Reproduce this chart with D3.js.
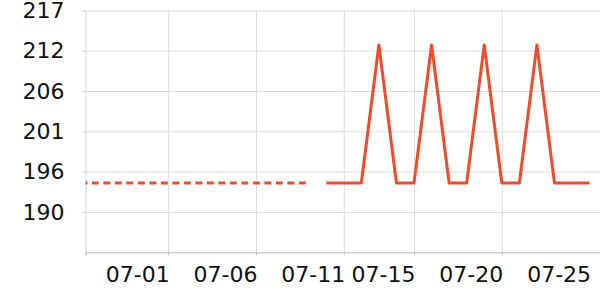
<!DOCTYPE html>
<html>
  <head>
	<meta charset="utf-8">
	<title>Line chart</title>
	<script src="https://cdnjs.cloudflare.com/ajax/libs/d3/7.8.5/d3.min.js"></script>
	<style>
	  body { margin: 0; background: #fff; }
	  .grid line { stroke: #dddddd; stroke-width: 1px; }
	  .grid path { display: none; }
	  .axis text { font-family: "DejaVu Sans", sans-serif; font-size: 22px; fill: #111; }
	  .line { fill: none; stroke: #ef4c2c; stroke-width: 3px; stroke-linejoin: round; }
	  .dashed { stroke-dasharray: 7 4.5; }
	</style>
  </head>
  <body>
    <div id="chart"></div>
    <script>
		// dates of the dashed (earlier) part and the solid part
		var dashedDates = ["06-26", "06-27", "06-28", "06-29", "06-30", "07-01", "07-02",
			"07-03", "07-04", "07-05", "07-06", "07-07", "07-08", "07-09"];
		var dashedValues = [194.2, 194.2, 194.2, 194.2, 194.2, 194.2, 194.2,
			194.2, 194.2, 194.2, 194.2, 194.2, 194.2, 194.2];

		var solidDates = ["07-10", "07-11", "07-12", "07-13", "07-14", "07-15", "07-16", "07-17",
			"07-18", "07-19", "07-20", "07-21", "07-22", "07-23", "07-24", "07-25"];
		var solidValues = [194.2, 194.2, 194.2, 212.5, 194.2, 194.2, 212.5, 194.2,
			194.2, 212.5, 194.2, 194.2, 212.5, 194.2, 194.2, 194.2];

		var xTickDates = ["07-01", "07-06", "07-11", "07-15", "07-20", "07-25"];
		var yTickValues = [190.35, 195.7, 201.05, 206.4, 211.75, 217.1];

		var margin = { left: 85.5, top: 10.3, right: 0, bottom: 47.7 };
		var width = 600 - margin.left - margin.right;
		var height = 300 - margin.top - margin.bottom;

		var parseDay = d3.timeParse("%Y-%m-%d");
		function toDate(s) { return parseDay("2024-" + s); }

		var x = d3.scaleTime()
			.domain([new Date(2024, 5, 26, 7, 0), new Date(2024, 6, 25, 14, 14)])
			.range([0, width]);
		var y = d3.scaleLinear().domain([185, 217.1]).range([height, 0]);

		var svg = d3.select("#chart").append("svg")
			.attr("width", 600)
			.attr("height", 300)
			.append("g")
			.attr("transform", "translate(" + margin.left + "," + margin.top + ")");

		svg.append("defs").append("clipPath").attr("id", "clip")
			.append("rect").attr("width", width).attr("height", height);

		// horizontal grid
		svg.append("g").attr("class", "grid")
			.call(d3.axisLeft(y).tickValues(yTickValues).tickSize(-width).tickFormat(""));

		// vertical grid (the last label has no grid line)
		svg.append("g").attr("class", "grid")
			.attr("transform", "translate(0," + height + ")")
			.call(d3.axisBottom(x).tickValues(xTickDates.slice(0, -1).map(toDate))
				.tickSize(-height).tickFormat(""));

		// y axis
		var yAxis = svg.append("g").attr("class", "axis")
			.call(d3.axisLeft(y).tickValues(yTickValues).tickSize(3).tickPadding(18)
				.tickFormat(d3.format(".0f")));
		yAxis.select(".domain").attr("stroke", "#d6d6d6").attr("d", "M0.5,0V" + (height + 4));
		yAxis.selectAll(".tick line").attr("stroke", "#cccccc");

		// x axis
		var xAxis = svg.append("g").attr("class", "axis")
			.attr("transform", "translate(0," + height + ")")
			.call(d3.axisBottom(x).tickValues(xTickDates.map(toDate)).tickSize(3).tickPadding(11)
				.tickFormat(d3.timeFormat("%m-%d")));
		xAxis.select(".domain").attr("stroke", "#bbbbbb");
		xAxis.selectAll(".tick line").attr("stroke", "#bbbbbb");
		xAxis.selectAll(".tick text").attr("text-anchor", "end").attr("dx", 1);
		xAxis.selectAll(".tick").filter(function (d, i) { return i == xTickDates.length - 1; })
			.select("line").remove();

		var line = d3.line()
			.x(function (d) { return x(d.date); })
			.y(function (d) { return y(d.value); });

		var dashedData = dashedDates.map(function (d, i) { return { date: toDate(d), value: dashedValues[i] }; });
		var solidData = solidDates.map(function (d, i) { return { date: toDate(d), value: solidValues[i] }; });

		var plot = svg.append("g").attr("clip-path", "url(#clip)");
		plot.append("path").datum(dashedData).attr("class", "line dashed").attr("d", line);
		plot.append("path").datum(solidData).attr("class", "line").attr("d", line);
    </script>
  </body>
</html>
